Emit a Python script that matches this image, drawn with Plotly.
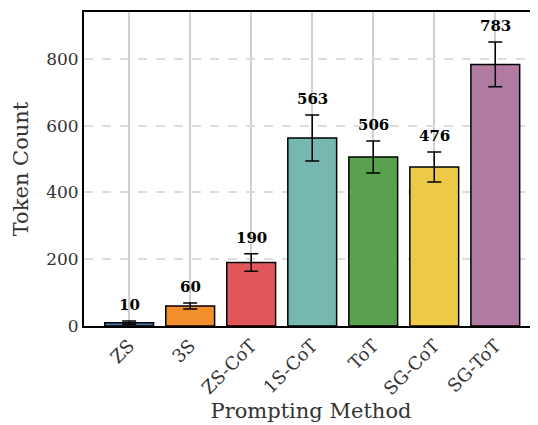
import plotly.graph_objects as go

methods = ["ZS", "3S", "ZS-CoT", "1S-CoT", "ToT", "SG-CoT", "SG-ToT"]
token_counts = [10, 60, 190, 563, 506, 476, 783]
errors = [5, 9, 26, 69, 48, 45, 67]
colors = ["#4e79a7", "#f28e2b", "#e15759", "#76b7b2", "#59a14f", "#edc948", "#b07aa1"]

FONT = "DejaVu Serif"

fig = go.Figure()
fig.add_trace(go.Bar(
    x=list(range(len(methods))), y=token_counts,
    width=0.8,
    marker=dict(color=colors, line=dict(color="black", width=1.5)),
    error_y=dict(type="data", array=errors, visible=True, color="black",
                 thickness=1.5, width=7),
))

for i, (v, e) in enumerate(zip(token_counts, errors)):
    fig.add_annotation(x=i, y=v + e, text=f"<b>{v}</b>", showarrow=False,
                       yanchor="bottom", yshift=5,
                       font=dict(family=FONT, size=15, color="black"))

fig.update_layout(
    width=530, height=417,
    margin=dict(l=76, r=0, t=4, b=99, autoexpand=False),
    plot_bgcolor="white", paper_bgcolor="white",
    showlegend=False,
    font=dict(family=FONT, size=17, color="#333333"),
    xaxis=dict(
        range=[-0.74, 6.7], automargin=False,
        tickmode="array", tickvals=list(range(len(methods))), ticktext=methods,
        tickangle=-45,
        showline=True, linecolor="black", linewidth=2, mirror=True,
        showgrid=True, gridcolor="#d0d0d0", gridwidth=1.5,
        ticks="", zeroline=False,
        title=dict(text="Prompting Method", font=dict(size=21), standoff=4),
        tickfont=dict(size=18),
    ),
    yaxis=dict(
        range=[0, 940], automargin=False,
        tickvals=[0, 200, 400, 600, 800],
        showline=True, linecolor="black", linewidth=2, mirror=False,
        showgrid=True, gridcolor="#dcdcdc", gridwidth=1.5, griddash="dash",
        ticks="", zeroline=False,
        title=dict(text="Token Count", font=dict(size=21), standoff=12),
        tickfont=dict(size=17),
    ),
)

fig.write_html("out.html")
